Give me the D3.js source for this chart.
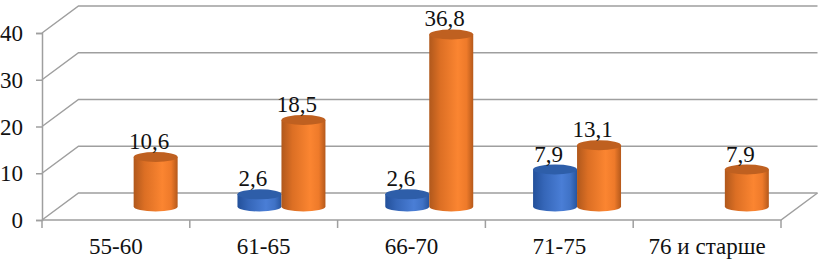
<!DOCTYPE html>
<html>
<head>
<meta charset="utf-8">
<script src="https://cdn.jsdelivr.net/npm/d3@7"></script>
<style>
  html, body { margin: 0; background: #fff; overflow: hidden; }
  text { font-family: "Liberation Serif", serif; font-size: 23px; fill: #111; }
</style>
</head>
<body>
<div id="chart"></div>
<script>
const categories = ["55-60", "61-65", "66-70", "71-75", "76 и старше"];
const seriesNames = ["blue", "orange"];
const blueValues = [null, 2.6, 2.6, 7.9, null];
const orangeValues = [10.6, 18.5, 36.8, 13.1, 7.9];
const yTicks = [0, 10, 20, 30, 40];

const width = 823, height = 261;
const gridColor = "#9f9f9f";

// 3d offset between the front edge of the floor and the back wall
const depthX = 36.5, depthY = -27;
const left = 42, right = 781, floorY = 220, topY = 33;
const ry = 5;

const svg = d3.select("#chart").append("svg")
  .attr("width", width)
  .attr("height", height);

const y = d3.scaleLinear().domain([0, 40]).range([floorY, topY]);
const x = d3.scaleBand().domain(categories).range([left, right]);
const xSeries = d3.scaleBand().domain(seriesNames).range([0, x.bandwidth()]).paddingOuter(0.68);

// cylinder shading
const defs = svg.append("defs");
const shades = {
  blue: ["#23509a", "#3566b8", "#4a7ed6", "#3f72c6", "#27559f"],
  orange: ["#b0581c", "#dc6f24", "#fb8531", "#ee7a2a", "#b5591b"]
};
seriesNames.forEach(name => {
  const grad = defs.append("linearGradient").attr("id", "grad-" + name);
  [0, 0.25, 0.65, 0.85, 1].forEach((o, i) => {
    grad.append("stop").attr("offset", o).attr("stop-color", shades[name][i]);
  });
});
const topColor = { blue: "#2e5ea9", orange: "#bf6020" };

// walls and floor
const grid = svg.append("g")
  .attr("fill", "none")
  .attr("stroke", gridColor)
  .attr("stroke-width", 1.5);

yTicks.forEach(t => {
  const points = [
    [left, y(t)],
    [left + depthX, y(t) + depthY],
    [right + depthX, y(t) + depthY]
  ];
  grid.append("path").attr("d", d3.line()(points));
});
grid.append("path").attr("d", d3.line()([
  [left, floorY], [right, floorY], [right + depthX, floorY + depthY]
]));

// axes
const yAxis = svg.append("g")
  .attr("transform", `translate(${left},0)`)
  .call(d3.axisLeft(y).tickValues(yTicks).tickSize(6).tickPadding(13).tickFormat(d3.format("d")));

const xAxis = svg.append("g")
  .attr("transform", `translate(0,${floorY})`)
  .call(d3.axisBottom(x).tickSize(0).tickPadding(18));

xAxis.select(".domain").remove();
yAxis.select(".domain").attr("stroke", gridColor).attr("stroke-width", 1.5);
yAxis.selectAll("line").attr("stroke", gridColor).attr("stroke-width", 1.5);
yAxis.selectAll("text").attr("dy", "0.33em");

// category separators sit on the band edges
xAxis.selectAll("line.sep")
  .data(categories.concat([null]))
  .enter().append("line")
  .attr("class", "sep")
  .attr("x1", (d, i) => left + i * x.step())
  .attr("x2", (d, i) => left + i * x.step())
  .attr("y1", 0)
  .attr("y2", 8)
  .attr("stroke", gridColor)
  .attr("stroke-width", 1.5);

// cylinders
const seriesData = [
  { name: "blue", values: blueValues },
  { name: "orange", values: orangeValues }
];
const baseY = v => y(v) + depthY / 2;
const labels = [];

seriesData.forEach(s => {
  const g = svg.append("g").attr("class", "series-" + s.name);
  s.values.forEach((v, i) => {
    if (v === null) return;
    const rx = xSeries.bandwidth() / 2;
    const cx = x(categories[i]) + depthX / 2 - 0.5 + xSeries(s.name) + rx;
    const y0 = baseY(0), y1 = baseY(v);
    g.append("path")
      .attr("d", `M${cx - rx},${y1} L${cx - rx},${y0} A${rx},${ry} 0 0 0 ${cx + rx},${y0} L${cx + rx},${y1} Z`)
      .attr("fill", `url(#grad-${s.name})`);
    g.append("ellipse")
      .attr("cx", cx)
      .attr("cy", y1)
      .attr("rx", rx)
      .attr("ry", ry)
      .attr("fill", topColor[s.name]);
    labels.push({ v, cx, y1 });
  });
});

// data labels go on top of everything
svg.append("g").selectAll("text")
  .data(labels)
  .enter().append("text")
  .attr("x", d => d.cx - 6.5)
  .attr("y", d => d.y1 - 8)
  .attr("text-anchor", "middle")
  .text(d => String(d.v).replace(".", ","));
</script>
</body>
</html>
